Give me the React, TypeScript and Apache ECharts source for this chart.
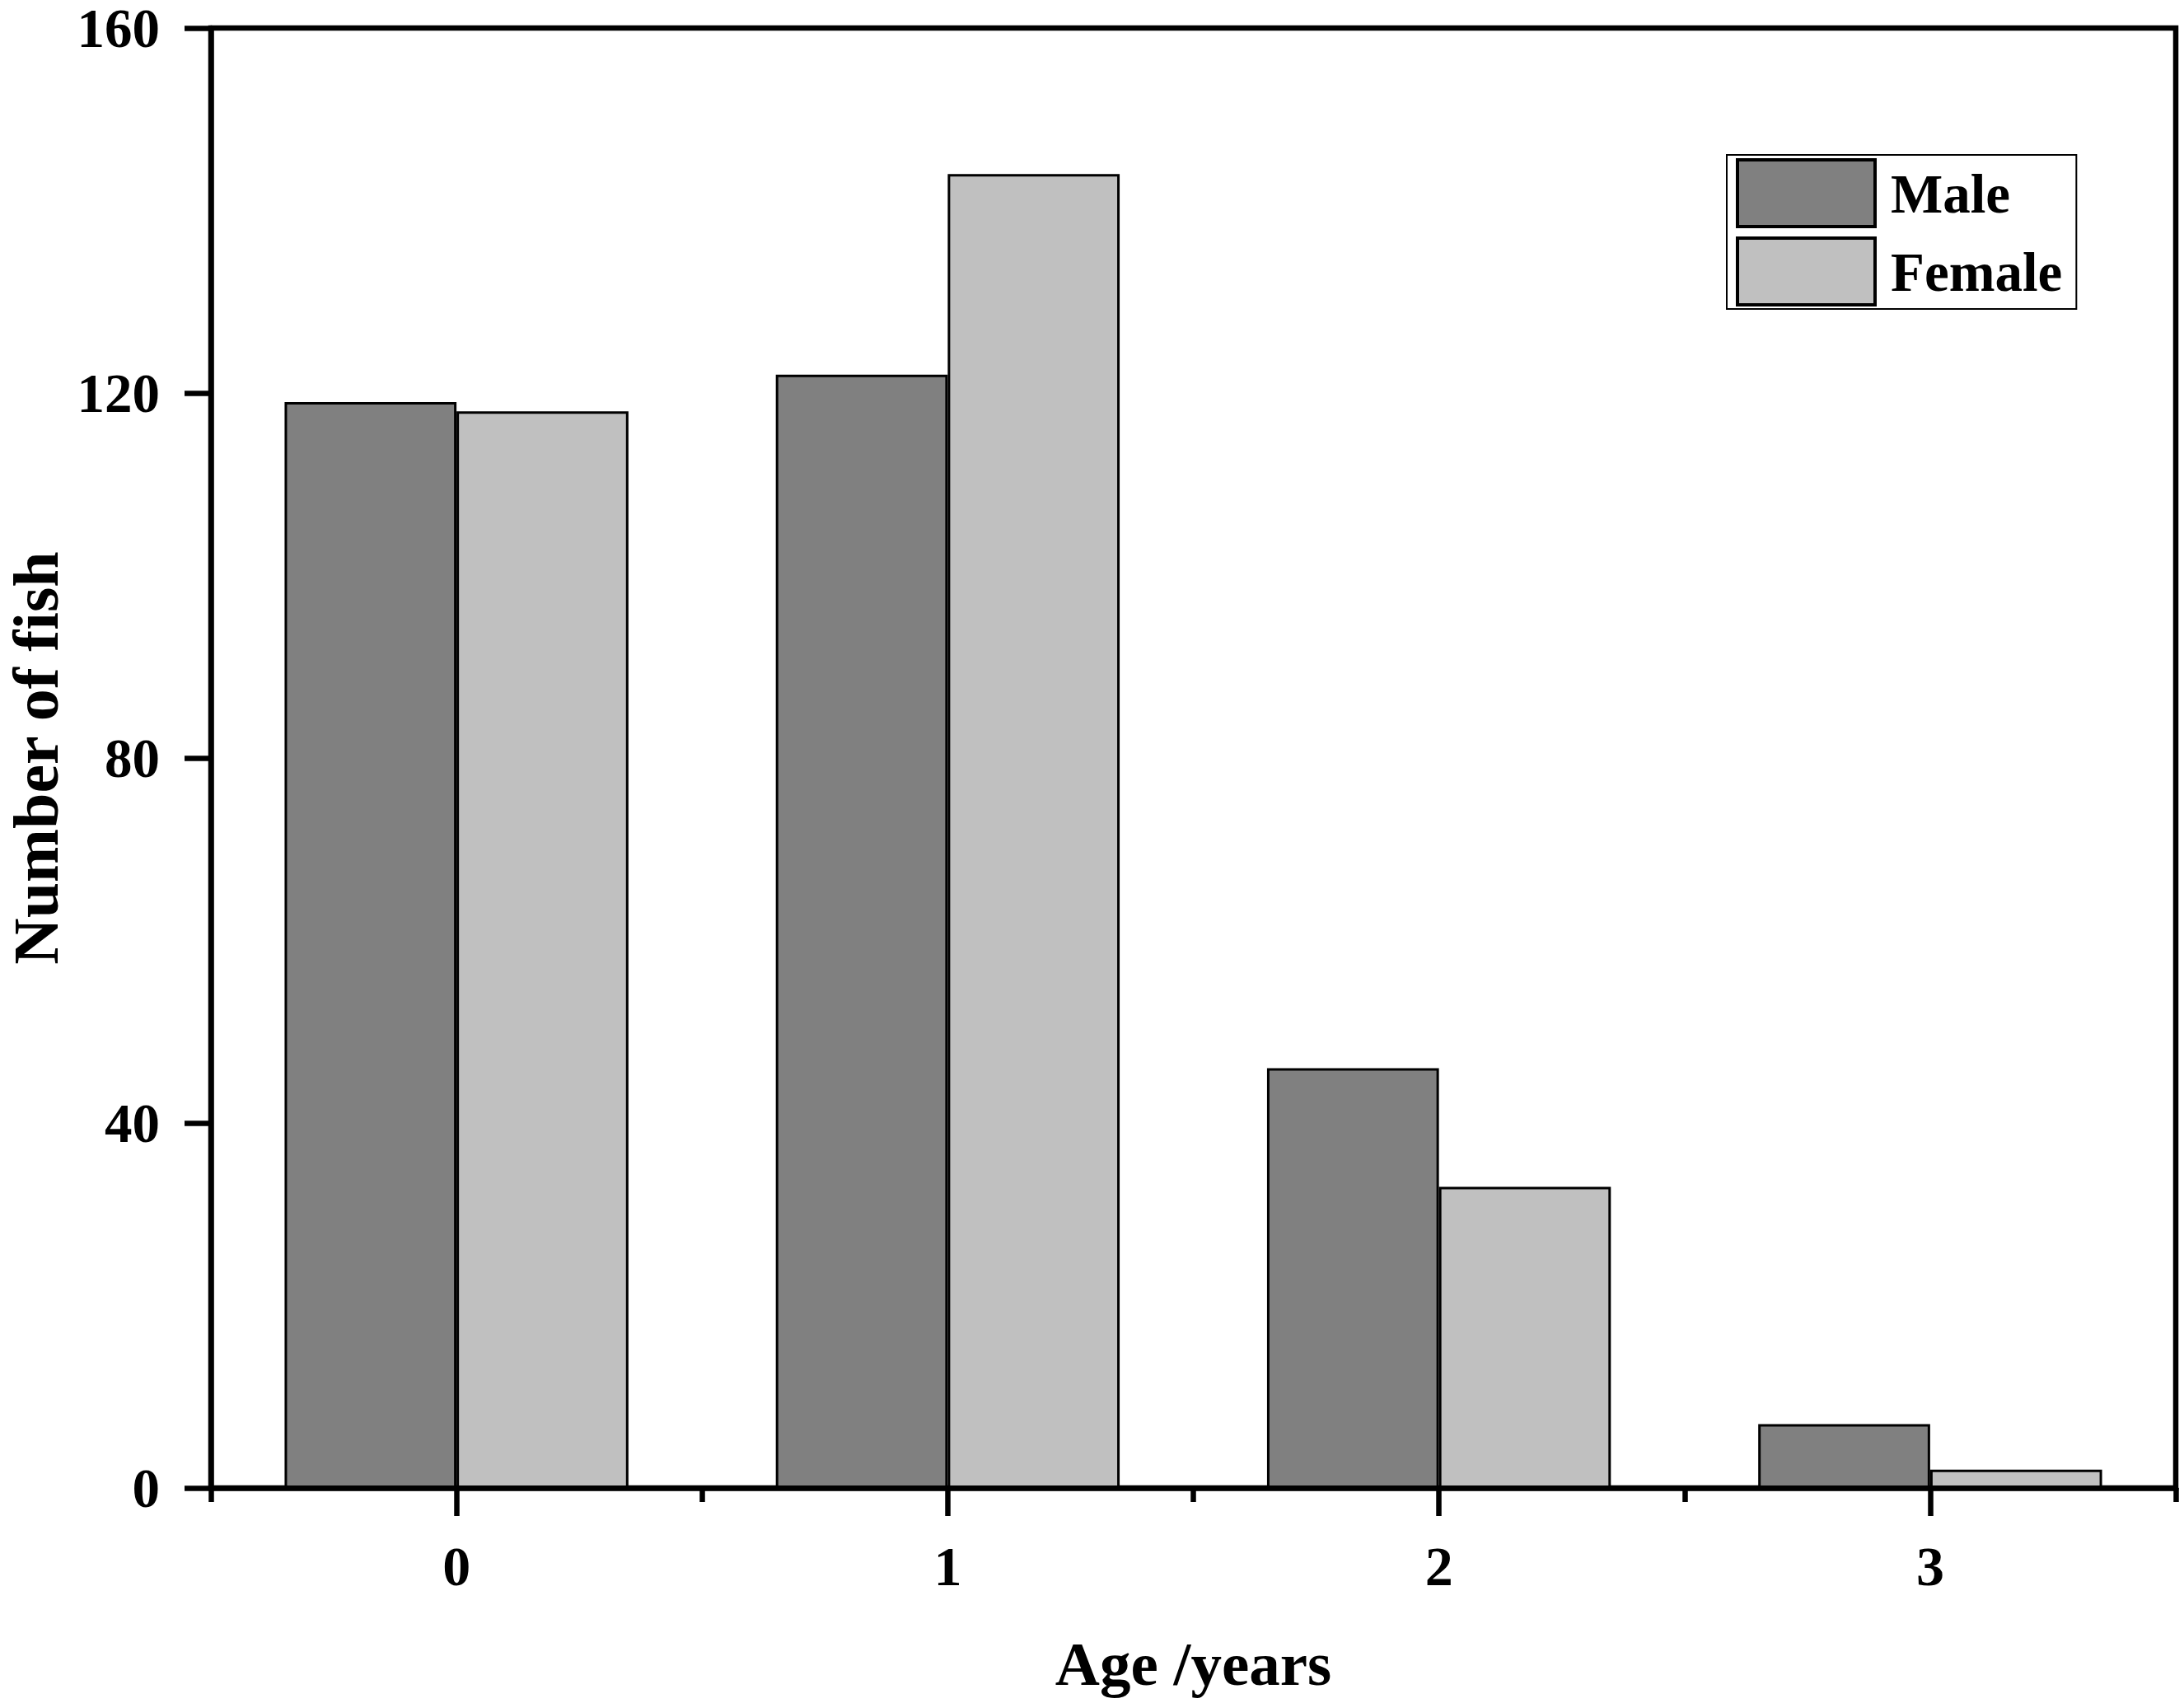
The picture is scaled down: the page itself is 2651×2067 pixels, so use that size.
import React, { useEffect, useRef } from "react";
import * as echarts from "echarts";

const categories = ["0", "1", "2", "3"];
const maleValues = [119, 122, 46, 7];
const femaleValues = [118, 144, 33, 2];
const yTicks = { min: 0, max: 160, interval: 40 };

const FONT = "'Liberation Serif', 'Times New Roman', serif";

export default function App() {
  const ref = useRef<HTMLDivElement>(null);
  useEffect(() => {
    document.body.style.margin = "0";
    const chart = echarts.init(ref.current!, null, { renderer: "svg" });
    const lineW = 6.5;
    chart.setOption({
      animation: false,
      backgroundColor: "#fff",
      grid: {
        left: 256,
        right: 10,
        top: 34,
        bottom: 261,
        show: true,
        borderColor: "#000",
        borderWidth: lineW,
        backgroundColor: "transparent",
        containLabel: false,
        outerBoundsMode: "none",
      },
      legend: {
        orient: "vertical",
        left: 2096,
        top: 188,
        padding: [4, 17, 3, 11],
        itemWidth: 167,
        itemHeight: 81,
        itemGap: 10,
        borderColor: "#000",
        borderWidth: 2,
        selectedMode: false,
        icon: "rect",
        itemStyle: { borderColor: "#000", borderWidth: 4 },
        textStyle: {
          fontFamily: FONT,
          fontWeight: "bold",
          fontSize: 67,
          color: "#000",
          padding: [0, 0, 0, 14],
        },
        data: ["Male", "Female"],
      },
      xAxis: [
        {
          type: "category",
          data: categories,
          position: "bottom",
          name: "Age /years",
          nameLocation: "middle",
          nameGap: 176,
          nameTextStyle: { fontFamily: FONT, fontWeight: "bold", fontSize: 75, color: "#000" },
          axisLine: { show: true, lineStyle: { color: "#000", width: lineW } },
          axisTick: { show: true, alignWithLabel: true, length: 34, lineStyle: { color: "#000", width: lineW } },
          axisLabel: { fontFamily: FONT, fontWeight: "bold", fontSize: 68, lineHeight: 60, color: "#000", margin: 65 },
          splitLine: { show: false },
        },
        {
          type: "category",
          data: categories,
          position: "bottom",
          axisLine: { show: false },
          axisTick: { show: true, length: 17, lineStyle: { color: "#000", width: lineW } },
          axisLabel: { show: false },
          splitLine: { show: false },
        },
      ],
      yAxis: {
        type: "value",
        min: yTicks.min,
        max: yTicks.max,
        interval: yTicks.interval,
        name: "Number of fish",
        nameLocation: "middle",
        nameGap: 178,
        nameTextStyle: { fontFamily: FONT, fontWeight: "bold", fontSize: 78, lineHeight: 70, color: "#000" },
        axisLine: { show: true, lineStyle: { color: "#000", width: lineW } },
        axisTick: { show: true, inside: false, length: 32, lineStyle: { color: "#000", width: lineW } },
        axisLabel: {
          fontFamily: FONT,
          fontWeight: "bold",
          fontSize: 67,
          lineHeight: 56,
          padding: [12, 0, 0, 0],
          color: "#000",
          margin: 62,
        },
        splitLine: { show: false },
      },
      series: [
        {
          name: "Male",
          type: "bar",
          xAxisIndex: 0,
          data: maleValues,
          barGap: "0%",
          barCategoryGap: "30%",
          itemStyle: { color: "#808080", borderColor: "#000", borderWidth: 3 },
        },
        {
          name: "Female",
          type: "bar",
          xAxisIndex: 0,
          data: femaleValues,
          barGap: "0%",
          barCategoryGap: "30%",
          itemStyle: { color: "#c0c0c0", borderColor: "#000", borderWidth: 3 },
        },
      ],
    });
    return () => chart.dispose();
  }, []);
  return <div ref={ref} style={{ width: 2651, height: 2067 }} />;
}
